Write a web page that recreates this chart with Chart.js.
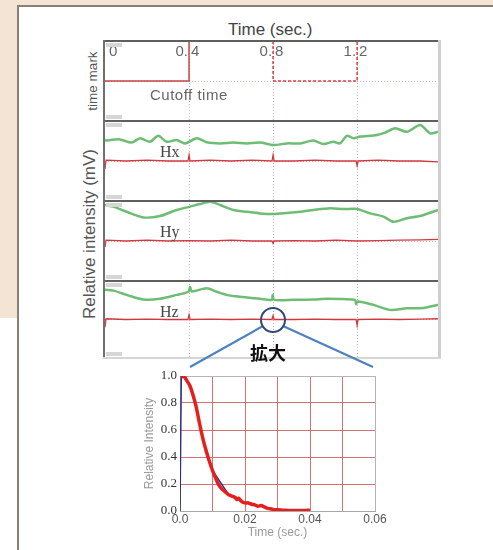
<!DOCTYPE html>
<html>
<head>
<meta charset="utf-8">
<script src="https://cdn.jsdelivr.net/npm/chart.js@4.4.0/dist/chart.umd.min.js"></script>
<style>
  body { margin: 0; width: 493px; height: 550px; overflow: hidden; position: relative; background: #fff; font-family: "Liberation Sans", Arial, sans-serif; }
  .abs { position: absolute; }
  .rot { position: absolute; transform: translate(-50%, -50%) rotate(-90deg); white-space: nowrap; }
  .line { position: absolute; }
  .tag { position: absolute; left: 106px; width: 16px; height: 4px; background: #d6d6d6; }
  .h { position: absolute; font-family: "Liberation Serif", "Times New Roman", serif; font-size: 16px; color: #444; }
  canvas { position: absolute; }
</style>
</head>
<body>
<div class="abs" style="left:0;top:0;width:493px;height:318px;background:#f4e4d3"></div>
<div class="abs" style="left:17px;top:5px;width:476px;height:545px;background:#fff;border-top:2px solid #8a7f76;border-left:2px solid #8a7f76"></div>

<div class="abs" style="left:228px;top:20px;font-size:17px;color:#444">Time (sec.)</div>
<div class="rot" style="left:92px;top:81px;font-size:13.5px;color:#555">time mark</div>
<div class="rot" style="left:90px;top:234px;font-size:17px;color:#555">Relative intensity (mV)</div>

<canvas id="panel1" width="333" height="80" style="left:105px;top:41px"></canvas>
<canvas id="panel2" width="333" height="80" style="left:105px;top:121px"></canvas>
<canvas id="panel3" width="333" height="80" style="left:105px;top:201px"></canvas>
<canvas id="panel4" width="333" height="77" style="left:105px;top:281px"></canvas>

<!-- frame of the recorder panels -->
<div class="line" style="left:104px;top:40px;width:335px;height:2px;background:#5f5f5f"></div>
<div class="line" style="left:104px;top:120px;width:335px;height:2px;background:#5f5f5f"></div>
<div class="line" style="left:104px;top:200px;width:335px;height:2px;background:#5f5f5f"></div>
<div class="line" style="left:104px;top:280px;width:335px;height:2px;background:#5f5f5f"></div>
<div class="line" style="left:103px;top:40px;width:2px;height:318px;background:#707070"></div>
<div class="line" style="left:438px;top:40px;width:3px;height:319px;background:#cfcfcf"></div>
<div class="line" style="left:103px;top:357px;width:338px;height:2px;background:#d5d5d5"></div>
<div class="tag" style="top:43px"></div>
<div class="tag" style="top:115px"></div>
<div class="tag" style="top:123px"></div>
<div class="tag" style="top:195px"></div>
<div class="tag" style="top:203px"></div>
<div class="tag" style="top:275px"></div>
<div class="tag" style="top:283px"></div>
<div class="tag" style="top:352px"></div>

<div class="abs" style="left:150px;top:86px;font-size:15px;letter-spacing:0.5px;color:#666">Cutoff time</div>
<div class="h" style="left:160px;top:143px">Hx</div>
<div class="h" style="left:160px;top:223px">Hy</div>
<div class="h" style="left:160px;top:303px">Hz</div>

<canvas id="decay" width="258" height="176" style="left:142px;top:365px"></canvas>

<svg class="abs" style="left:0;top:0" width="493" height="550">
  <line x1="263" y1="326" x2="190" y2="367" stroke="#4f81bd" stroke-width="2.2"/>
  <line x1="283" y1="326" x2="373" y2="367" stroke="#4f81bd" stroke-width="2.2"/>
  <circle cx="273" cy="320" r="12" fill="none" stroke="#2c4a78" stroke-width="2"/>
</svg>
<div class="abs" style="left:250px;top:339px;font-family:'Noto Sans CJK JP',sans-serif;font-weight:bold;font-size:18px;color:#111">拡大</div>

<script>
const X_MAX = 1.585;
const timeMarks = [0, 0.4, 0.8, 1.2];
const timeMarkLabels = ['0', '0.4', '0.8', '1.2'];

// time mark signal (0 = low, 1 = high)
const markTime = [0, 0.4, 0.4, 0.8];
const markLevel = [0, 0, 1, 1];
const cutTime = [0.8, 0.8, 1.2, 1.2, X_MAX];
const cutLevel = [1, 0, 0, 1, 1];

// Hx
const hxGreenTime = [0, 0.071, 0.127, 0.167, 0.214, 0.254, 0.294, 0.341, 0.381, 0.437, 0.484, 0.548, 0.611, 0.675, 0.738, 0.802, 0.865, 0.929, 0.992, 1.04, 1.087, 1.119, 1.151, 1.183, 1.214, 1.294, 1.333, 1.381, 1.437, 1.5, 1.548, 1.585];
const hxGreen = [0.51, 0.54, 0.46, 0.57, 0.48, 0.63, 0.48, 0.525, 0.44, 0.57, 0.47, 0.44, 0.46, 0.44, 0.46, 0.40, 0.44, 0.44, 0.51, 0.425, 0.48, 0.44, 0.63, 0.57, 0.61, 0.65, 0.71, 0.82, 0.73, 0.90, 0.69, 0.73];
const hxRedTime = [0, 0.005, 0.1, 0.2, 0.3, 0.395, 0.4, 0.405, 0.5, 0.6, 0.7, 0.795, 0.8, 0.805, 0.9, 1.0, 1.1, 1.195, 1.2, 1.205, 1.3, 1.4, 1.5, 1.585];
const hxRed = [-0.2, 0.02, 0, 0.02, 0, 0, 0.15, 0, 0.02, 0, 0.02, 0, 0.15, 0, 0, 0.02, 0, 0, -0.12, 0, 0.02, 0, 0, -0.02];

// Hy
const hyGreenTime = [0, 0.04, 0.103, 0.183, 0.262, 0.341, 0.405, 0.452, 0.5, 0.548, 0.611, 0.675, 0.738, 0.802, 0.865, 0.929, 0.992, 1.071, 1.135, 1.198, 1.262, 1.325, 1.373, 1.437, 1.5, 1.585];
const hyGreen = [0.90, 0.86, 0.73, 0.59, 0.625, 0.775, 0.86, 0.925, 0.98, 0.90, 0.775, 0.73, 0.69, 0.675, 0.70, 0.73, 0.775, 0.82, 0.80, 0.80, 0.69, 0.61, 0.48, 0.57, 0.625, 0.775];
const hyRedTime = [0, 0.005, 0.1, 0.2, 0.3, 0.4, 0.5, 0.6, 0.7, 0.795, 0.8, 0.805, 0.9, 1.0, 1.1, 1.2, 1.3, 1.4, 1.5, 1.585];
const hyRed = [-0.15, 0.02, 0, 0.02, 0, 0.01, 0, 0.02, 0, 0, -0.06, 0, 0.01, 0, 0.02, 0, 0.01, 0.02, 0.03, 0.04];

// Hz
const hzGreenTime = [0, 0.04, 0.103, 0.183, 0.262, 0.341, 0.397, 0.405, 0.413, 0.484, 0.532, 0.579, 0.643, 0.738, 0.794, 0.798, 0.805, 0.897, 0.992, 1.056, 1.135, 1.19, 1.195, 1.202, 1.278, 1.357, 1.437, 1.516, 1.585];
const hzGreen = [0.77, 0.75, 0.64, 0.52, 0.54, 0.64, 0.72, 0.85, 0.73, 0.81, 0.72, 0.64, 0.59, 0.54, 0.51, 0.64, 0.51, 0.51, 0.52, 0.54, 0.53, 0.51, 0.40, 0.47, 0.38, 0.25, 0.29, 0.30, 0.38];
const hzRedTime = [0, 0.005, 0.1, 0.2, 0.3, 0.395, 0.4, 0.405, 0.5, 0.6, 0.7, 0.795, 0.8, 0.805, 0.9, 1.0, 1.1, 1.195, 1.2, 1.205, 1.3, 1.4, 1.5, 1.585];
const hzRed = [-0.2, 0.02, 0, 0.01, 0, 0, 0.12, 0, 0.01, 0, 0.01, 0, 0.1, 0, 0, 0.01, 0, 0, -0.15, 0, 0.01, 0, 0.01, 0.02];

// enlarged decay (Relative Intensity vs Time)
const decayTime = [0.0005, 0.001, 0.0015, 0.002, 0.003, 0.004, 0.005, 0.006, 0.007, 0.008, 0.009, 0.010, 0.011, 0.012, 0.013, 0.014, 0.015, 0.016, 0.017, 0.0175, 0.018, 0.019, 0.020, 0.021, 0.022, 0.023, 0.024, 0.025, 0.026, 0.027, 0.028, 0.029, 0.030, 0.032, 0.034, 0.036, 0.038, 0.040];
const decayValue = [0.99, 1.0, 0.99, 0.97, 0.93, 0.86, 0.77, 0.65, 0.54, 0.45, 0.37, 0.30, 0.24, 0.19, 0.16, 0.14, 0.12, 0.11, 0.10, 0.085, 0.095, 0.07, 0.06, 0.06, 0.05, 0.045, 0.035, 0.04, 0.03, 0.02, 0.015, 0.01, 0.01, 0.005, 0.004, 0.003, 0.003, 0.006];
const fitTime = [0, 0.0004, 0.001, 0.003, 0.005, 0.007, 0.010, 0.015, 0.020, 0.030, 0.040];
const fitValue = [0, 1.0, 1.0, 0.93, 0.77, 0.54, 0.30, 0.12, 0.06, 0.01, 0];
const decayXLabels = ['0.0', '', '0.02', '', '0.04', '', '0.06'];
const decayYLabels = ['0.0', '0.2', '0.4', '0.6', '0.8', '1.0'];

const GREEN = 'rgba(84, 178, 92, 0.85)';
const RED = 'rgba(205, 35, 45, 0.9)';

const toPoints = (xs, ys) => xs.map((x, i) => ({x: x, y: ys[i]}));

const greenSet = (xs, ys) => ({data: toPoints(xs, ys), borderColor: GREEN, borderWidth: 2.5, tension: 0.25});
const redSet = (xs, ys) => ({data: toPoints(xs, ys), borderColor: RED, borderWidth: 1.3, tension: 0});

// top tick labels written inside the first panel, the mark line runs right after the point
const markLabels = {
  id: 'markLabels',
  afterDraw(chart) {
    if (chart.canvas.id !== 'panel1') return;
    const ctx = chart.ctx;
    const x = chart.scales.x;
    ctx.save();
    ctx.font = '15px "Liberation Sans", Arial, sans-serif';
    ctx.fillStyle = '#666';
    ctx.textBaseline = 'middle';
    timeMarks.forEach((v, i) => {
      const label = timeMarkLabels[i];
      const px = x.getPixelForValue(v);
      const cut = label.indexOf('.') + 1;
      if (cut === 0) {
        ctx.textAlign = 'left';
        ctx.fillText(label, px + 4, 11);
        return;
      }
      ctx.textAlign = 'right';
      ctx.fillText(label.slice(0, cut), px - 1, 11);
      ctx.textAlign = 'left';
      ctx.fillText(label.slice(cut), px + 2, 11);
    });
    ctx.restore();
  }
};

const makePanel = (id, datasets) => new Chart(document.getElementById(id), {
  type: 'line',
  data: {datasets: datasets},
  options: {
    responsive: false,
    animation: false,
    layout: {padding: 0},
    elements: {point: {radius: 0}},
    plugins: {legend: {display: false}, tooltip: {enabled: false}},
    scales: {
      x: {
        type: 'linear', min: 0, max: X_MAX,
        ticks: {display: false},
        grid: {drawTicks: false, color: 'rgba(200, 150, 150, 0.8)', lineWidth: 1},
        border: {display: false, dash: [1, 2]},
        afterBuildTicks: (scale) => { scale.ticks = timeMarks.slice(1).map((v) => ({value: v})); }
      },
      y: {
        min: -1, max: 1,
        ticks: {display: false},
        grid: {drawTicks: false, color: 'rgba(200, 150, 150, 0.8)', lineWidth: 1},
        border: {display: false, dash: [1, 2]},
        afterBuildTicks: (scale) => { scale.ticks = [{value: 0}]; }
      }
    }
  },
  plugins: [markLabels]
});

makePanel('panel1', [
  {data: toPoints(markTime, markLevel), borderColor: 'rgba(190, 50, 50, 0.9)', borderWidth: 1.5, tension: 0},
  {data: toPoints(cutTime, cutLevel), borderColor: 'rgba(215, 40, 40, 0.9)', borderWidth: 1.5, borderDash: [3, 2], tension: 0}
]);
makePanel('panel2', [greenSet(hxGreenTime, hxGreen), redSet(hxRedTime, hxRed)]);
makePanel('panel3', [greenSet(hyGreenTime, hyGreen), redSet(hyRedTime, hyRed)]);
makePanel('panel4', [greenSet(hzGreenTime, hzGreen), redSet(hzRedTime, hzRed)]);

// enlarged chart
const edgeOrRed = (c) => (c.index === 0 || c.index === c.scale.ticks.length - 1) ? '#b4b4b4' : 'rgba(205, 90, 90, 0.85)';

new Chart(document.getElementById('decay'), {
  type: 'line',
  data: {
    datasets: [
      {data: toPoints(decayTime, decayValue), borderColor: '#e4201c', borderWidth: 3.5, tension: 0.2},
      {data: toPoints(fitTime, fitValue), borderColor: '#2e2e8c', borderWidth: 1.5, tension: 0}
    ]
  },
  options: {
    responsive: false,
    animation: false,
    layout: {padding: {top: 11, right: 25, left: 0, bottom: 0}},
    elements: {point: {radius: 0}},
    plugins: {legend: {display: false}, tooltip: {enabled: false}},
    scales: {
      x: {
        type: 'linear', min: 0, max: 0.06,
        ticks: {
          stepSize: 0.01, padding: 1, color: '#555', maxRotation: 0, autoSkip: false,
          font: {family: '"Liberation Sans", Arial, sans-serif', size: 12},
          callback: (v, i) => decayXLabels[i]
        },
        grid: {drawTicks: false, color: edgeOrRed, lineWidth: 1},
        border: {color: '#a8a8a8'},
        title: {display: true, text: 'Time (sec.)', color: '#999', padding: {top: 0, bottom: 1}, font: {family: '"Liberation Sans", Arial, sans-serif', size: 12}},
        afterFit: (scale) => { scale.height = 30; }
      },
      y: {
        min: 0, max: 1,
        ticks: {
          stepSize: 0.2, padding: 3, color: '#333',
          font: {family: '"Liberation Serif", "Times New Roman", serif', size: 13},
          callback: (v, i) => decayYLabels[i]
        },
        grid: {drawTicks: false, color: edgeOrRed, lineWidth: 1},
        border: {color: '#a8a8a8'},
        title: {display: true, text: 'Relative Intensity', color: '#999', padding: {top: 0, bottom: 0}, font: {family: '"Liberation Sans", Arial, sans-serif', size: 12}},
        afterFit: (scale) => { scale.width = 38; }
      }
    }
  }
});
</script>
</body>
</html>
